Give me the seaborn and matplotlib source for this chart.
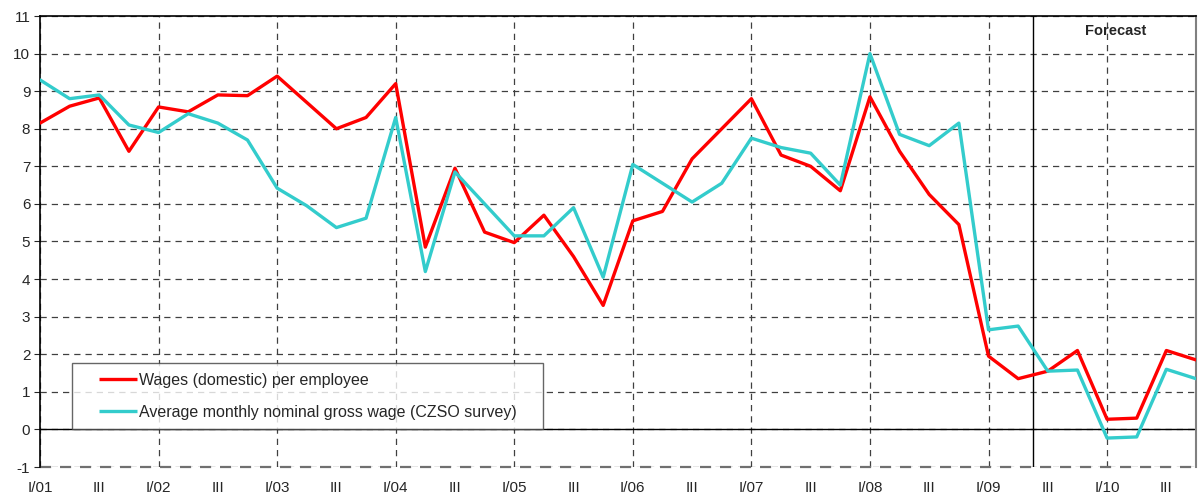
import numpy as np
import pandas as pd
import matplotlib
matplotlib.use("Agg")
import matplotlib.pyplot as plt
import seaborn as sns
from matplotlib.lines import Line2D
from matplotlib.legend_handler import HandlerLine2D

# ---- data ----
quarters = [f"{q}/{y:02d}" for y in range(1, 11) for q in ["I", "II", "III", "IV"]]
tick_labels = [("I/%02d" % y) if q == "I" else "III" for y in range(1, 11) for q in ["I", "III"]]

wages_domestic = [8.15, 8.6, 8.82, 7.4, 8.58, 8.45, 8.9, 8.88, 9.4, 8.7,
                  8.0, 8.3, 9.2, 4.85, 6.95, 5.25, 4.97, 5.7, 4.6, 3.3,
                  5.55, 5.8, 7.2, 8.0, 8.8, 7.3, 7.0, 6.35, 8.85, 7.4,
                  6.25, 5.45, 1.95, 1.35, 1.55, 2.1, 0.27, 0.3, 2.1, 1.85]
avg_gross_wage = [9.3, 8.8, 8.9, 8.1, 7.9, 8.4, 8.15, 7.7, 6.42, 5.95,
                  5.37, 5.62, 8.3, 4.2, 6.85, 6.0, 5.15, 5.15, 5.9, 4.05,
                  7.05, 6.55, 6.05, 6.55, 7.75, 7.5, 7.35, 6.5, 10.0, 7.85,
                  7.55, 8.15, 2.65, 2.75, 1.55, 1.58, -0.23, -0.2, 1.6, 1.35]

series_names = ["Wages (domestic) per employee",
                "Average monthly nominal gross wage (CZSO survey)"]
colors = ["#FF0000", "#33CCCC"]
forecast_start = 33.5  # between II/09 and III/09
forecast_label = "Forecast"

idx = np.arange(len(quarters))
df = pd.DataFrame({
    "idx": np.concatenate([idx, idx]),
    "value": wages_domestic + avg_gross_wage,
    "series": [series_names[0]] * len(idx) + [series_names[1]] * len(idx),
})

sns.set_style("white")
plt.rcParams["font.family"] = ["Liberation Sans", "DejaVu Sans"]
plt.rcParams["axes.unicode_minus"] = False

fig = plt.figure(figsize=(12.02, 4.98), dpi=100)
ax = fig.add_axes([40 / 1202, 1 - 467 / 498, 1156 / 1202, 451 / 498])

sns.lineplot(data=df, x="idx", y="value", hue="series", palette=colors,
             linewidth=2.4, ax=ax, legend=False, zorder=3)

ax.set_xlim(0, 39)
ax.set_ylim(-1, 11)
ax.set_yticks(np.arange(-1, 12, 1))
ax.set_xticks(np.arange(0, 40, 2))
ax.set_xticklabels(tick_labels, fontsize=11)
ax.xaxis.remove_overlapping_locs = False
ax.set_xticks(np.arange(0, 40, 4), minor=True)
ax.tick_params(axis="x", which="both", length=0, pad=10)
ax.tick_params(axis="y", which="major", length=4, direction="out", labelsize=11, left=True, pad=3)
ax.set_xlabel("")
ax.set_ylabel("")

dash = (0, (5, 4))
gcol = "#404040"
ax.grid(False)
ax.yaxis.grid(True, which="major", color=gcol, linestyle=dash, linewidth=0.9)
ax.xaxis.grid(True, which="minor", color=gcol, linestyle=dash, linewidth=0.9)
ax.set_axisbelow(True)
ax.axhline(-1, color="#707070", linestyle=dash, linewidth=1.6, clip_on=False, zorder=1)

ax.axhline(0, color="black", linewidth=1.0, zorder=2)
ax.axvline(forecast_start, color="black", linewidth=1.0, zorder=2)

for s in ["left", "top"]:
    ax.spines[s].set_color("black")
    ax.spines[s].set_linewidth(1.2)
ax.spines["right"].set_color("#808080")
ax.spines["right"].set_linewidth(1.5)
ax.spines["bottom"].set_visible(False)

ax.text(36.3, 10.6, forecast_label, fontsize=10.5, fontweight="bold",
        ha="center", va="center")


class ShortHandler(HandlerLine2D):
    def create_artists(self, legend, orig_handle, xdescent, ydescent,
                       width, height, fontsize, trans):
        y = height / 2.0 - ydescent
        line = Line2D([width * 0.31 - xdescent, width - xdescent], [y, y],
                      color=orig_handle.get_color(),
                      linewidth=orig_handle.get_linewidth(),
                      solid_capstyle="butt")
        line.set_transform(trans)
        return [line]


handles = [Line2D([0], [0], color=c, linewidth=2.4) for c in colors]
leg = ax.legend(handles, series_names, loc="lower left",
                bbox_to_anchor=(0.0277, 0.084, 0.4075, 0.147), mode="expand",
                fontsize=11.5, frameon=True, fancybox=False, shadow=False,
                handlelength=3.44, handletextpad=0.15, borderpad=0.6,
                labelspacing=1.05, borderaxespad=0,
                handler_map={Line2D: ShortHandler()})
leg.get_frame().set_edgecolor("#404040")
leg.get_frame().set_linewidth(1.0)
leg.set_zorder(5)

fig.savefig("out.png", dpi=100)
